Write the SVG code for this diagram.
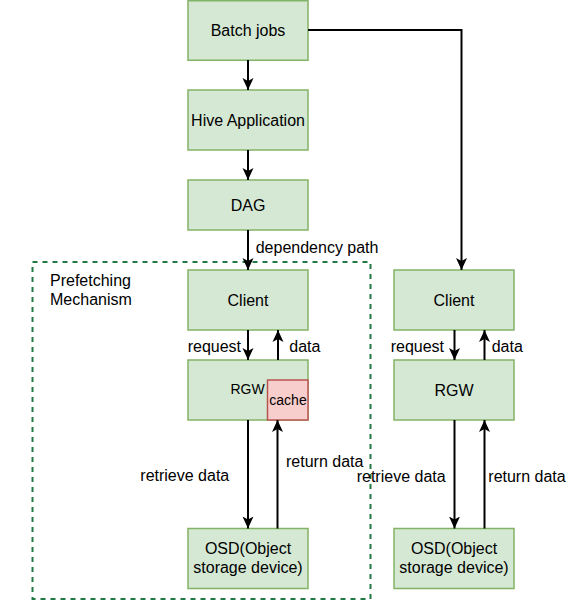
<svg xmlns="http://www.w3.org/2000/svg" width="577" height="601" viewBox="0 0 577 601">
<style>
.n{fill:#d5e8d4;stroke:#82b366;stroke-width:1.5}
.c{fill:#f8cecc;stroke:#b85450;stroke-width:1.5}
text{font-family:"Liberation Sans",Arial,sans-serif;font-size:16px;fill:#000}
.m{text-anchor:middle}
.s{font-size:14px}
.e{fill:none;stroke:#000;stroke-width:2;marker-end:url(#a)}
</style>
<defs>
<marker id="a" markerUnits="userSpaceOnUse" markerWidth="12" markerHeight="12" refX="12" refY="6" orient="auto" viewBox="0 0 12 12">
<path d="M0,0.5 L12,6 L0,11.5 L3,6 Z" fill="#000"/>
</marker>
</defs>
<rect x="32.5" y="262" width="338" height="337" fill="none" stroke="#1f7a45" stroke-width="2" stroke-dasharray="5 5"/>
<text x="50" y="286.3">Prefetching</text>
<text x="50" y="305">Mechanism</text>
<g id="batch"><rect class="n" x="188" y="0.75" width="120" height="59.5"/><text class="m" x="248" y="35.6">Batch jobs</text></g>
<g id="hive"><rect class="n" x="188" y="90" width="120" height="60"/><text class="m" x="248" y="125.6">Hive Application</text></g>
<g id="dag"><rect class="n" x="188" y="180" width="120" height="50"/><text class="m" x="248" y="210.6">DAG</text></g>
<g id="client1"><rect class="n" x="188" y="270" width="120" height="60"/><text class="m" x="248" y="305.6">Client</text></g>
<g id="rgw1"><rect class="n" x="188" y="360" width="120" height="60"/><text class="m s" x="247.5" y="394">RGW</text>
<rect class="c" x="267.5" y="380" width="40.5" height="40"/><text class="m s" x="288" y="405">cache</text></g>
<g id="osd1"><rect class="n" x="188" y="528.5" width="120" height="60"/><text class="m" x="248" y="554">OSD(Object</text><text class="m" x="248" y="573">storage device)</text></g>
<g id="client2"><rect class="n" x="394" y="270" width="120" height="60"/><text class="m" x="454" y="305.6">Client</text></g>
<g id="rgw2"><rect class="n" x="394" y="360" width="120" height="60"/><text class="m" x="454" y="395.6">RGW</text></g>
<g id="osd2"><rect class="n" x="394" y="528.5" width="120" height="60"/><text class="m" x="454" y="554">OSD(Object</text><text class="m" x="454" y="573">storage device)</text></g>
<g id="edges">
<path class="e" d="M248,60 V90"/>
<path class="e" d="M248,150 V180"/>
<path class="e" d="M248,230 V270"/>
<path class="e" d="M308,30 H461.5 V270"/>
<path class="e" d="M248,330 V360"/>
<path class="e" d="M278,360 V330"/>
<path class="e" d="M248,420 V528.5"/>
<path class="e" d="M277.5,528.5 V420"/>
<path class="e" d="M454.5,330 V360"/>
<path class="e" d="M484.5,360 V330"/>
<path class="e" d="M454.5,420 V528.5"/>
<path class="e" d="M484.5,528.5 V420"/>
<text x="255.7" y="252.5">dependency path</text>
<text x="187.7" y="351.6">request</text>
<text x="289.3" y="351.6">data</text>
<text x="390.7" y="351.6">request</text>
<text x="491.7" y="351.6">data</text>
<text x="140.3" y="481.3">retrieve data</text>
<text x="286" y="467.3">return data</text>
<text x="356.7" y="482.3">retrieve data</text>
<text x="488.3" y="482.3">return data</text>
</g>
</svg>
